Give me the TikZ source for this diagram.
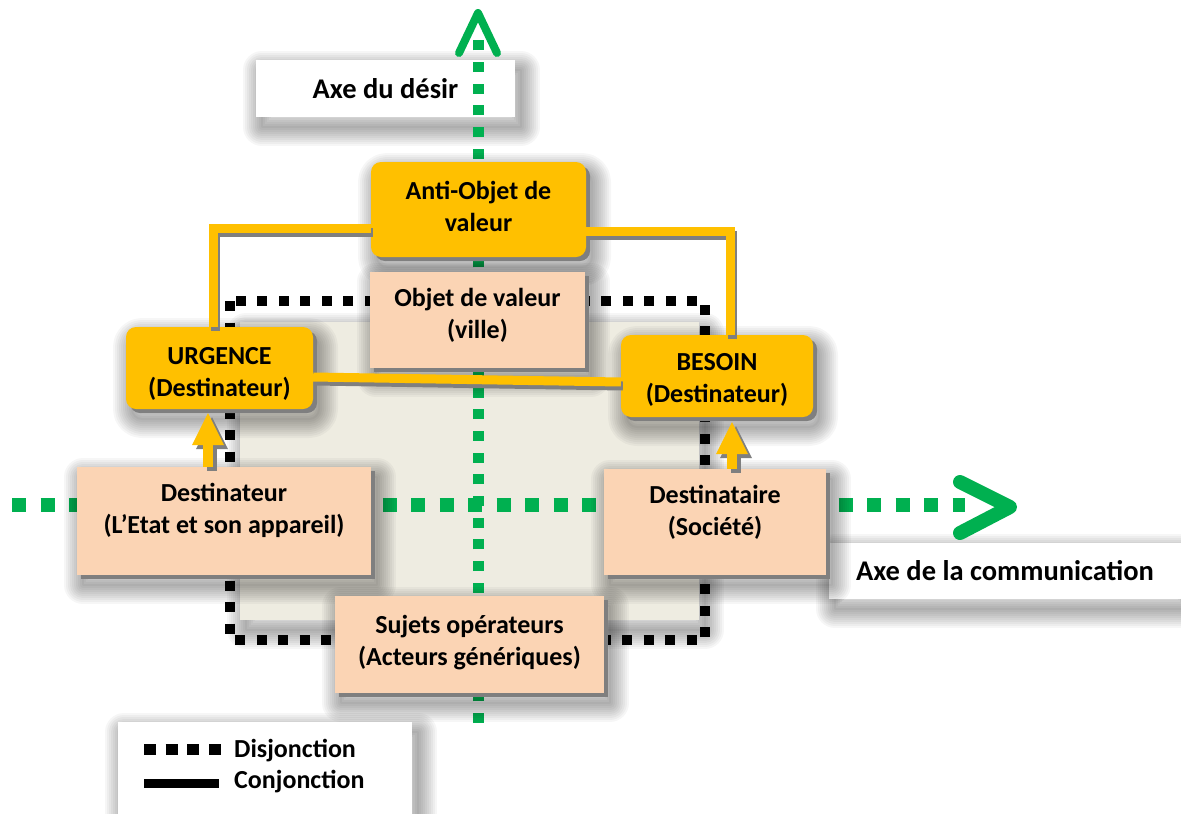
\documentclass[tikz,border=0pt]{standalone}
\usepackage{fontspec}
\setmainfont{Carlito}
\usetikzlibrary{arrows.meta,positioning,shadows,calc}
\definecolor{gold}{HTML}{FFC000}
\definecolor{peach}{HTML}{FBD4B4}
\definecolor{sand}{HTML}{EEECE1}
\definecolor{leaf}{HTML}{00B050}
\definecolor{shade}{HTML}{7F7F7F}

\begin{document}
\begin{tikzpicture}[x=1pt,y=-1pt,
  txt/.style={font=\fontsize{26}{32}\selectfont\bfseries, align=center, inner sep=0pt},
  halo/.style={preaction={draw=black, line width=#1, line join=round, opacity=.035,
    transform canvas={xshift=6pt, yshift=-10pt}}},
  soft/.style={halo=38pt, halo=34pt, halo=30pt, halo=26pt, halo=22pt, halo=18pt, halo=14pt, halo=10pt, halo=6pt, halo=2pt},
  hard/.style={drop shadow={shadow xshift=4pt, shadow yshift=-4pt, fill=shade, opacity=1}},
  tbox/.style={txt, soft, hard},
  labelbox/.style={txt, font=\fontsize{28.5}{34}\selectfont\bfseries, fill=white, soft},
  vaxis/.style={draw=leaf, line width=11pt, dash pattern=on 10pt off 11.7pt},
  haxis/.style={draw=leaf, line width=14pt, dash pattern=on 14pt off 14.5pt},
  chevron/.style={draw=leaf, line cap=round, line join=round},
  dotline/.style={draw=black, line width=10pt, dash pattern=on 10pt off 11.5pt},
  conline/.style={draw=gold, line width=9pt,
    preaction={draw=shade, line width=9pt, transform canvas={xshift=2pt, yshift=-4pt}}},
  uparrow/.style={draw=gold, line width=10pt, -{Triangle[width=32pt, length=32pt, line width=0pt]},
    preaction={draw=shade, line width=10pt, transform canvas={xshift=4pt, yshift=-4pt}}}]
  \useasboundingbox (0,0) rectangle (1181,814);
  \fill[white] (0,0) rectangle (1181,814);

  % square and disjunction frame
  \node[fill=sand, soft, minimum width=459pt, minimum height=298pt, inner sep=0pt] (square) at (469.5,471) {};
  \draw[dotline] (230,301) rectangle (705,640);
  % axis labels
  \node[labelbox, minimum width=259pt, minimum height=57pt] (desir) at (385.5,88.5) {Axe du désir};
  \node[labelbox, minimum width=352pt, minimum height=56pt] (comm) at (1005,571) {Axe de la communication};
  % the two axes
  \coordinate (desirfoot) at (478,723);
  \coordinate (desirtip) at (478,13);
  \coordinate (commfoot) at (12,505);
  \coordinate (commtip) at (1010,507);
  \draw[vaxis] (desirfoot) -- ([yshift=-22pt]desirtip);
  \draw[chevron, line width=8pt] ($(desirtip)+(-19,40)$) -- (desirtip) -- ($(desirtip)+(19,40)$);
  \draw[haxis] (commfoot) -- ($(commtip)+(-45,-2)$);
  \draw[chevron, line width=14pt] ($(commtip)+(-50,-25)$) -- (commtip) -- ($(commtip)+(-50,26)$);

  \foreach \nm/\x/\y/\w/\h/\d/\c/\r/\t in {
     anti/478.5/209.5/215/95/17/gold/10/{Anti-Objet de\\valeur},
     objet/477.5/320/215/96/24/peach/0/{Objet de valeur\\(ville)},
     urgence/219.5/368/187/82/4/gold/10/{URGENCE\\(Destinateur)},
     besoin/717/376/192/82/8/gold/10/{BESOIN\\(Destinateur)},
     dest/224/521/294/108/36/peach/0/{Destinateur\\(L’Etat et son appareil)},
     destre/715/522/222/106/34/peach/0/{Destinataire\\(Société)},
     sujets/469.5/644.5/269/97/19/peach/0/{Sujets opérateurs\\(Acteurs génériques)}}
  {
    \node[tbox, fill=\c, rounded corners=\r pt, minimum width=\w pt, minimum height=\h pt,
      text height=60pt, text depth=\d pt] (\nm) at (\x,\y) {\t};
  }

  % conjunction lines
  \draw[conline] ([yshift=-19pt]anti.west) -| ([xshift=-6.5pt]urgence.north);
  \draw[conline] ([yshift=-22pt]anti.east) -| ([xshift=13pt]besoin.north);
  \draw[conline] ([yshift=-9pt]urgence.east) -- ([yshift=-6pt]besoin.west);
  \draw[uparrow] ([xshift=-16pt]dest.north) -- ([xshift=-11.5pt, yshift=-4pt]urgence.south);
  \draw[uparrow] ([xshift=17pt]destre.north) -- ([xshift=15pt, yshift=-5pt]besoin.south);

  % legend
  \node[labelbox, minimum width=294pt, minimum height=100pt] (legend) at (265,772) {};
  \node[txt, anchor=base west] (disj) at (234,757) {Disjonction};
  \node[txt, anchor=base west] (conj) at (234,788) {Conjonction};
  \draw[black, line width=11pt, dash pattern=on 12pt off 9.7pt] ($(disj.base west)+(-90,-8)$) -- ($(disj.base west)+(-11,-8)$);
  \draw[black, line width=9pt] ($(conj.base west)+(-90,-5)$) -- ($(conj.base west)+(-15,-5)$);
\end{tikzpicture}
\end{document}
